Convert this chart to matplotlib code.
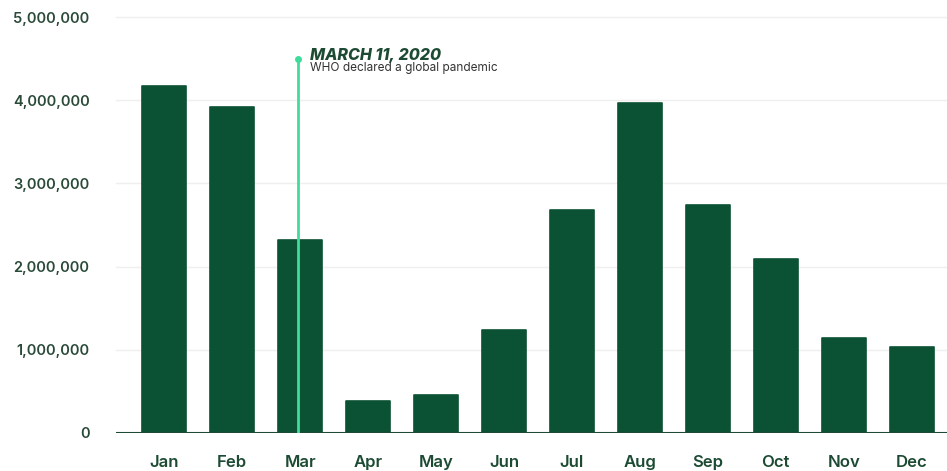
import numpy as np
import matplotlib.pyplot as plt

months = ['Jan', 'Feb', 'Mar', 'Apr', 'May', 'Jun',
          'Jul', 'Aug', 'Sep', 'Oct', 'Nov', 'Dec']
values = [4170000, 3920000, 2320000, 385000, 457000, 1240000,
          2680000, 3970000, 2740000, 2090000, 1140000, 1030000]
yticks = [0, 1000000, 2000000, 3000000, 4000000, 5000000]
event_month = 'Mar'
event_top = 4500000
event_title = 'MARCH 11, 2020'
event_note = 'WHO declared a global pandemic'

bar_color = '#0b5133'
mint = '#40dc9c'
text_green = '#1c4a33'

plt.rcParams['font.family'] = ['Inter', 'DejaVu Sans']

fig = plt.figure(figsize=(9.47, 4.71), dpi=100)
ax = fig.add_axes([116/947, 38/471, 831/947, 416/471])

x = np.arange(len(months))
bars = ax.bar(x, values, width=0.65, color=bar_color, edgecolor=bar_color,
              linewidth=1.2, zorder=2)
for b in bars:
    b.set_joinstyle('round')

ax.set_xlim(-0.71, 11.52)
ax.set_ylim(0, 5000000)
ax.set_yticks(yticks)
ax.set_yticklabels(['{:,}'.format(v) for v in yticks])
ax.set_xticks(x)
ax.set_xticklabels(months)

for v in yticks[1:]:
    ax.axhline(v, color='#efefef', linewidth=1, zorder=0, clip_on=False)
ax.axhline(0, color=text_green, linewidth=1.5, zorder=3)

for s in ax.spines.values():
    s.set_visible(False)
ax.tick_params(length=0)
ax.tick_params(axis='y', pad=19, labelsize=10.5, labelcolor='#2a4a38')
ax.tick_params(axis='x', pad=16, labelsize=12, labelcolor=text_green)
for lbl in ax.get_xticklabels() + ax.get_yticklabels():
    lbl.set_fontweight('semibold')

# event marker
ex = months.index(event_month) - 0.03
ax.plot([ex, ex], [0, event_top], color=mint, linewidth=2, zorder=4)
ax.plot([ex], [event_top], 'o', color=mint, markersize=4, zorder=4)
ax.text(ex + 0.17, event_top - 20000, event_title, fontsize=11.5,
        fontweight='heavy', fontstyle='italic', color=text_green,
        va='baseline', ha='left')
ax.text(ex + 0.17, event_top - 40000, event_note, fontsize=8.5,
        color='#333333', va='top', ha='left')

fig.savefig('out.png', dpi=100)
